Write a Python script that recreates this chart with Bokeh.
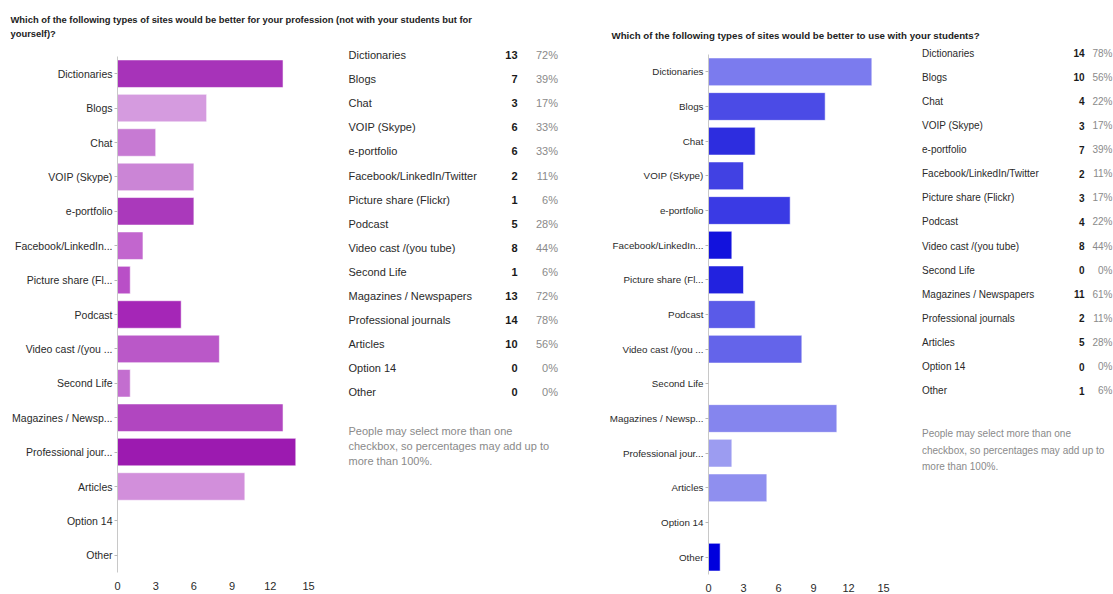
from bokeh.plotting import figure
from bokeh.layouts import row, column
from bokeh.models import Range1d, FactorRange, FixedTicker, ColumnDataSource
from bokeh.core.properties import value
from bokeh.embed import file_html
from bokeh.resources import INLINE

# ---------------- data ----------------
categories = ["Dictionaries", "Blogs", "Chat", "VOIP (Skype)", "e-portfolio",
              "Facebook/LinkedIn/Twitter", "Picture share (Flickr)", "Podcast",
              "Video cast /(you tube)", "Second Life", "Magazines / Newspapers",
              "Professional journals", "Articles", "Option 14", "Other"]
axis_labels = ["Dictionaries", "Blogs", "Chat", "VOIP (Skype)", "e-portfolio",
               "Facebook/LinkedIn...", "Picture share (Fl...", "Podcast",
               "Video cast /(you ...", "Second Life", "Magazines / Newsp...",
               "Professional jour...", "Articles", "Option 14", "Other"]
prof_counts = [13, 7, 3, 6, 6, 2, 1, 5, 8, 1, 13, 14, 10, 0, 0]
prof_pct = ["72%", "39%", "17%", "33%", "33%", "11%", "6%", "28%", "44%", "6%",
            "72%", "78%", "56%", "0%", "0%"]
stud_counts = [14, 10, 4, 3, 7, 2, 3, 4, 8, 0, 11, 2, 5, 0, 1]
stud_pct = ["78%", "56%", "22%", "17%", "39%", "11%", "17%", "22%", "44%", "0%",
            "61%", "11%", "28%", "0%", "6%"]
x_ticks = [0, 3, 6, 9, 12, 15]
title_prof = ["Which of the following types of sites would be better for your profession (not with your students but for",
              "yourself)?"]
title_stud = ["Which of the following types of sites would be better to use with your students?"]
note_lines = ["People may select more than one",
              "checkbox, so percentages may add up to",
              "more than 100%."]

# ---------------- styles ----------------
prof_colors = ["#A733B9", "#D59BDF", "#C77AD3", "#CB85D6", "#AA39BB", "#C266CE",
               "#B94FC7", "#A526B7", "#BA58C8", "#C36ECF", "#B146C0", "#9C1AB0",
               "#D28FDB", "#C87AD3", "#C87AD3"]
stud_colors = ["#7B7BEE", "#4B4BE6", "#2D2DDF", "#4141E3", "#3A3AE4", "#1212DD",
               "#2222DF", "#5A5AE8", "#6464EA", "#6464EA", "#8585EE", "#9C9CF1",
               "#8F8FEF", "#6464EA", "#0000DD"]
FONT = "Liberation Sans"
TOP_H = 44          # height of the title strip
LOW_H = 550         # height of the lower strip


def bar_chart(counts, colors, width, left, right, top, bottom, fs):
    factors = list(reversed(axis_labels))
    p = figure(width=width, height=LOW_H, y_range=FactorRange(factors=factors),
               x_range=Range1d(0, 15), output_backend="svg", toolbar_location=None,
               min_border_left=left, min_border_right=right,
               min_border_top=top, min_border_bottom=bottom)
    src = ColumnDataSource(dict(cat=axis_labels, count=counts, color=colors))
    p.hbar(y="cat", left=0, right="count", height=0.8, source=src,
           fill_color="color", line_color="white", line_alpha=0.55, line_width=1)
    p.xgrid.visible = False
    p.ygrid.visible = False
    p.outline_line_color = None
    ya = p.yaxis[0]
    ya.axis_line_color = "#c8c8c8"
    ya.major_tick_line_color = "#b8b8b8"
    ya.major_tick_in = 0
    ya.major_tick_out = 3
    ya.major_label_standoff = 2
    ya.major_label_text_font = FONT
    ya.major_label_text_font_size = fs
    ya.major_label_text_color = "#2a2a2a"
    xa = p.xaxis[0]
    xa.ticker = FixedTicker(ticks=x_ticks)
    xa.axis_line_color = None
    xa.major_tick_line_color = None
    xa.minor_tick_line_color = None
    xa.major_tick_out = 0
    xa.major_tick_in = 0
    xa.major_label_standoff = 9
    xa.major_label_text_font = FONT
    xa.major_label_text_font_size = "11px"
    xa.major_label_text_color = "#2a2a2a"
    return p


def blank(x0, width, y0, height):
    # frame covers the whole figure and is mapped to absolute page pixels
    p = figure(width=width, height=height, x_range=Range1d(x0, x0 + width),
               y_range=Range1d(y0 + height, y0), output_backend="svg",
               toolbar_location=None, min_border=0,
               x_axis_location=None, y_axis_location=None)
    p.xgrid.visible = False
    p.ygrid.visible = False
    p.outline_line_color = None
    return p


def title_fig(x0, width, lines, x, y0, dy, fs):
    p = blank(x0, width, 0, TOP_H)
    p.text(x=[x] * len(lines), y=[y0 + i * dy for i in range(len(lines))], text=lines,
           text_font=value(FONT), text_font_size=fs, text_font_style="bold",
           text_color="#222222", text_baseline="middle", text_align="left")
    return p


def table_fig(x0, width, counts, pcts, xl, xc, xp, y0, dy, ny0, ndy, fs):
    p = blank(x0, width, TOP_H, LOW_H)
    ys = [y0 + i * dy for i in range(len(categories))]
    common = dict(text_font=value(FONT), text_font_size=fs, text_baseline="middle")
    p.text(x=[xl] * len(ys), y=ys, text=categories, text_color="#2a2a2a",
           text_align="left", **common)
    p.text(x=[xc] * len(ys), y=ys, text=[str(c) for c in counts], text_color="#1a1a1a",
           text_font_style="bold", text_align="right", **common)
    p.text(x=[xp] * len(ys), y=ys, text=pcts, text_color="#8a8a8a",
           text_align="right", **common)
    nys = [ny0 + i * ndy for i in range(len(note_lines))]
    p.text(x=[xl] * len(nys), y=nys, text=note_lines, text_color="#8a8a8a",
           text_align="left", **common)
    return p


# left half
tL = title_fig(0, 600, title_prof, 10, 18.5, 14, "9.4px")
cL = bar_chart(prof_counts, prof_colors, 340, 117, 32, 12, 22, "10.5px")
gL = table_fig(340, 260, prof_counts, prof_pct, 348, 517, 557.5,
               54.7, 24.07, 430, 15, "11px")
left = column(tL, row(cL, column(gL, spacing=0), spacing=0), spacing=0)

# right half
tR = title_fig(600, 513, title_stud, 611, 35, 14, "9.7px")
cR = bar_chart(stud_counts, stud_colors, 305, 108, 22, 10, 17, "9.8px")
gR = table_fig(905, 208, stud_counts, stud_pct, 921.5, 1084, 1112,
               52.7, 24.1, 433, 16.7, "10px")
right = column(tR, row(cR, column(gR, spacing=0), spacing=0), spacing=0)

layout = row(left, right, spacing=0)

with open("out.html", "w") as f:
    f.write(file_html(layout, INLINE))
